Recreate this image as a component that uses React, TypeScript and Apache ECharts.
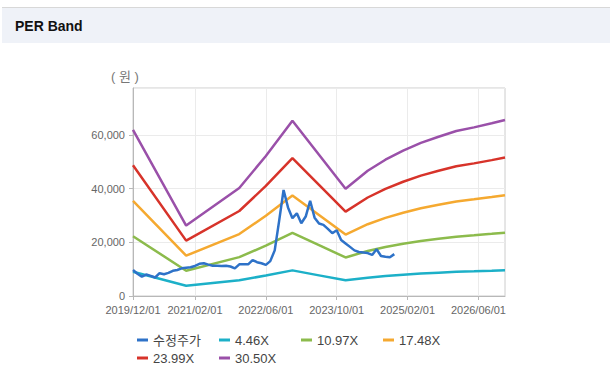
import React, { useEffect, useRef } from "react";
import * as echarts from "echarts";

// Monthly categories 2019/12/01 .. 2026/12/01
const FIRST_YEAR = 2019;
const FIRST_MONTH = 12;
const MONTH_COUNT = 85;
const MONTHS: string[] = [];
for (let i = 0; i < MONTH_COUNT; i++) {
  const m0 = FIRST_MONTH - 1 + i;
  const y = FIRST_YEAR + Math.floor(m0 / 12);
  const m = (m0 % 12) + 1;
  MONTHS.push(`${y}/${m < 10 ? "0" + m : m}/01`);
}

const X_TICK_LABELS = ["2019/12/01", "2021/02/01", "2022/06/01", "2023/10/01", "2025/02/01", "2026/06/01"];

const SERIES_NAMES = ["수정주가", "4.46X", "10.97X", "17.48X", "23.99X", "30.50X"];
const COLORS = ["#2e72c8", "#1cb0c8", "#8cbb4c", "#f5a930", "#d7332a", "#9a50a9"];

// Adjusted price, monthly from 2019/12
const PRICE = [
  9690, 8300, 7200, 8000, 7500, 6900, 8500, 8100, 8600, 9400,
  9700, 10300, 10500, 10700, 11200, 12000, 12200, 11700, 11300, 11300,
  11200, 11300, 11000, 10300, 11800, 11800, 11800, 13400, 12600, 12200,
  11600, 13000, 17000, 28000, 39500, 33000, 29000, 30800, 27100, 29600,
  35500, 29200, 27000, 26500, 25000, 23400, 24500, 20900, 19600, 18300,
  17000, 16400, 16200, 16000, 15300, 17400, 14900, 14600, 14400, 15600,
];

// Band key dates
const BAND_DATES = [
  "2019/12/01", "2020/12/01", "2021/12/01", "2022/06/01", "2022/12/01", "2023/06/01",
  "2023/12/01", "2024/05/01", "2024/09/01", "2025/01/01", "2025/05/01", "2025/09/01",
  "2026/01/01", "2026/05/01", "2026/09/01", "2026/12/01",
];
const BAND_446 = [9050, 3840, 5890, 7630, 9540, 7690, 5840, 6820, 7430, 7920, 8340, 8670, 8990, 9190, 9410, 9590];
const BAND_1097 = [22270, 9430, 14480, 18760, 23480, 18920, 14370, 16780, 18270, 19470, 20510, 21340, 22100, 22600, 23150, 23590];
const BAND_1748 = [35480, 15030, 23070, 29890, 37410, 30150, 22900, 26740, 29100, 31030, 32690, 34000, 35220, 36010, 36880, 37580];
const BAND_2399 = [48700, 20630, 31670, 41020, 51340, 41380, 31430, 36700, 39940, 42580, 44860, 46660, 48340, 49420, 50620, 51580];
const BAND_3050 = [61920, 26230, 40260, 52160, 65270, 52610, 39960, 46670, 50780, 54140, 57040, 59320, 61460, 62830, 64360, 65580];

const Y_MAX = 77500;
const Y_INTERVAL = 20000;

export default function App() {
  const ref = useRef<HTMLDivElement>(null);
  useEffect(() => {
    if (!ref.current) return;
    const chart = echarts.init(ref.current, undefined, { renderer: "svg" });
    const bands = [BAND_446, BAND_1097, BAND_1748, BAND_2399, BAND_3050];
    const font = "'Liberation Sans', Arial, 'Noto Sans CJK KR', sans-serif";
    const isTick = (_i: number, v: string) => X_TICK_LABELS.indexOf(v) >= 0;
    const series: any[] = [];
    bands.forEach((b, k) => {
      series.push({
        name: SERIES_NAMES[k + 1],
        type: "line",
        showSymbol: false,
        symbol: "none",
        data: b.map((v, i) => [BAND_DATES[i], v]),
        lineStyle: { width: 2.5, color: COLORS[k + 1] },
        itemStyle: { color: COLORS[k + 1] },
        z: 2,
      });
    });
    series.unshift({
      name: SERIES_NAMES[0],
      type: "line",
      showSymbol: false,
      symbol: "none",
      data: PRICE.map((v, i) => [MONTHS[i], v]),
      lineStyle: { width: 2.5, color: COLORS[0] },
      itemStyle: { color: COLORS[0] },
      z: 3,
    });
    chart.setOption({
      animation: false,
      backgroundColor: "#ffffff",
      textStyle: { fontFamily: font },
      graphic: [
        { type: "rect", shape: { x: 2, y: 8, width: 608, height: 35 }, style: { fill: "#eff2f8" } },
        { type: "line", shape: { x1: 2, y1: 7.5, x2: 610, y2: 7.5 }, style: { stroke: "#d8d8d8", lineWidth: 1 } },
        {
          type: "text",
          x: 15,
          y: 26,
          style: { text: "PER Band", fill: "#111111", font: `bold 14px ${font}`, textVerticalAlign: "middle" },
        },
        {
          type: "text",
          x: 111,
          y: 76,
          style: { text: "( 원 )", fill: "#777777", font: `13px ${font}`, textVerticalAlign: "middle" },
        },
      ],
      grid: {
        left: 133,
        top: 88,
        width: 372,
        height: 208,
        show: true,
        borderColor: "#cccccc",
        borderWidth: 1,
        backgroundColor: "transparent",
      },
      legend: {
        left: 137,
        top: 333,
        width: 340,
        padding: 0,
        itemWidth: 11,
        itemHeight: 3,
        itemGap: 4,
        icon: "rect",
        data: SERIES_NAMES,
        textStyle: { fontSize: 13, color: "#444444", width: 62, lineHeight: 14, fontFamily: font },
      },
      xAxis: {
        type: "category",
        data: MONTHS,
        boundaryGap: false,
        axisLine: { lineStyle: { color: "#b8b8b8" } },
        axisTick: { show: true, interval: isTick, length: 4, lineStyle: { color: "#b8b8b8" } },
        axisLabel: { interval: isTick, fontSize: 11, color: "#666666", margin: 8, fontFamily: font },
        splitLine: { show: true, interval: isTick, lineStyle: { color: "#ebebeb" } },
      },
      yAxis: {
        type: "value",
        min: 0,
        max: Y_MAX,
        interval: Y_INTERVAL,
        axisLine: { show: true, lineStyle: { color: "#b8b8b8" } },
        axisTick: { show: true, length: 4, lineStyle: { color: "#b8b8b8" } },
        axisLabel: {
          fontSize: 11,
          color: "#666666",
          margin: 8,
          showMaxLabel: false,
          fontFamily: font,
          formatter: (v: number) => v.toLocaleString("en-US"),
        },
        splitLine: { show: true, lineStyle: { color: "#ebebeb" } },
      },
      series,
    });
    return () => chart.dispose();
  }, []);
  return (
    <div style={{ position: "fixed", left: 0, top: 0, width: 610, height: 387, background: "#fff" }}>
      <div ref={ref} style={{ width: 610, height: 387 }} />
    </div>
  );
}
